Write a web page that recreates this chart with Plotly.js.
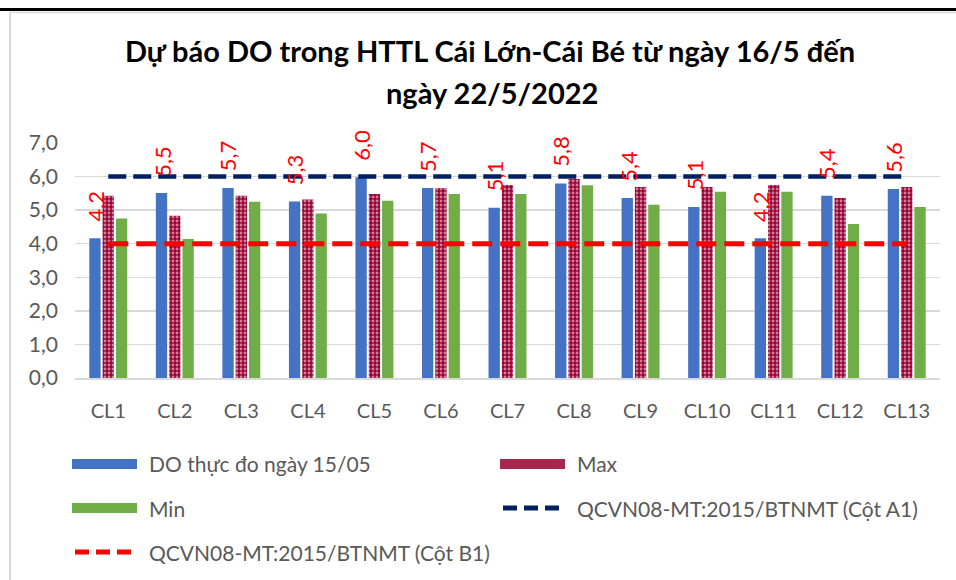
<!DOCTYPE html>
<html>
<head>
<meta charset="utf-8">
<script src="https://cdn.plot.ly/plotly-3.0.1.min.js"></script>
<style>html,body{margin:0;padding:0;background:#fff;}#chart{width:956px;height:580px;}</style>
</head>
<body>
<div id="chart"></div>
<script>
// ---- data ----
const categories = ['CL1','CL2','CL3','CL4','CL5','CL6','CL7','CL8','CL9','CL10','CL11','CL12','CL13'];
const doMeasured = [4.16, 5.51, 5.66, 5.26, 5.98, 5.66, 5.07, 5.79, 5.36, 5.09, 4.16, 5.43, 5.63];
const maxValues  = [5.43, 4.83, 5.43, 5.32, 5.48, 5.66, 5.75, 5.93, 5.69, 5.69, 5.75, 5.36, 5.69];
const minValues  = [4.75, 4.14, 5.25, 4.90, 5.28, 5.48, 5.48, 5.74, 5.16, 5.55, 5.55, 4.59, 5.09];
const a1Values   = [6, 6, 6, 6, 6, 6, 6, 6, 6, 6, 6, 6, 6];
const b1Values   = [4, 4, 4, 4, 4, 4, 4, 4, 4, 4, 4, 4, 4];
const seriesNames = ['DO thực đo ngày 15/05', 'Max', 'Min', 'QCVN08-MT:2015/BTNMT (Cột A1)', 'QCVN08-MT:2015/BTNMT (Cột B1)'];
const titleLines = ['Dự báo DO trong HTTL Cái Lớn-Cái Bé từ ngày 16/5 đến', 'ngày 22/5/2022'];

// ---- geometry helpers (pixel -> paper) ----
const W = 956, H = 580;
const M = {l: 75, r: 16, t: 143, b: 202};
const PW = W - M.l - M.r, PH = H - M.t - M.b;
const px = x => (x - M.l) / PW;
const py = y => (H - M.b - y) / PH;

const FONT = 'Lato, Open Sans, sans-serif';
const GREY = '#595959';
const colors = {do: '#4472C4', max: '#990033', min: '#70AD47', a1: '#002060', b1: '#FF0000'};

const traces = [
  {type: 'bar', name: seriesNames[0], x: categories, y: doMeasured, marker: {color: colors.do}},
  {type: 'bar', name: seriesNames[1], x: categories, y: maxValues,
   marker: {color: colors.max, pattern: {shape: '.', fgcolor: '#ffffff', bgcolor: colors.max, size: 4, solidity: 0.4, fillmode: 'overlay'}}},
  {type: 'bar', name: seriesNames[2], x: categories, y: minValues, marker: {color: colors.min}},
  {type: 'scatter', mode: 'lines', name: seriesNames[3], x: categories, y: a1Values,
   line: {color: colors.a1, width: 4.5, dash: '18px,7px'}},
  {type: 'scatter', mode: 'lines', name: seriesNames[4], x: categories, y: b1Values,
   line: {color: colors.b1, width: 5, dash: '20px,8px'}}
];

const annotations = [];
// data labels on the measured bars
doMeasured.forEach((v, i) => {
  annotations.push({
    x: categories[i], y: v, xref: 'x', yref: 'y',
    text: v.toFixed(1).replace('.', ','),
    textangle: -90, showarrow: false,
    xanchor: 'center', yanchor: 'middle', xshift: -13, yshift: 32,
    font: {family: FONT, size: 22, color: '#FF0000'}
  });
});
// second title line
annotations.push({
  xref: 'paper', yref: 'paper', x: px(492), y: py(93), xanchor: 'center', yanchor: 'middle',
  text: titleLines[1], showarrow: false,
  font: {family: FONT, size: 29, color: '#000000', weight: 700}
});

// custom legend
const shapes = [];
const legendItems = [
  {col: 0, row: 0, kind: 'rect', color: colors.do, name: seriesNames[0]},
  {col: 1, row: 0, kind: 'rect', color: '#a8274f', name: seriesNames[1]},
  {col: 0, row: 1, kind: 'rect', color: colors.min, name: seriesNames[2]},
  {col: 1, row: 1, kind: 'line', color: colors.a1, name: seriesNames[3], dash: '14px,7px', width: 5},
  {col: 0, row: 2, kind: 'line', color: colors.b1, name: seriesNames[4], dash: '14px,7px', width: 5}
];
legendItems.forEach(it => {
  const x0 = 72 + it.col * 428, x1 = x0 + 65;
  const yc = 464 + it.row * 44;
  if (it.kind === 'rect') {
    shapes.push({type: 'rect', xref: 'paper', yref: 'paper', x0: px(x0), x1: px(x1), y0: py(yc - 5), y1: py(yc + 5),
      fillcolor: it.color, line: {width: 0}});
  } else {
    shapes.push({type: 'line', xref: 'paper', yref: 'paper', x0: px(x0 + 3), x1: px(x1), y0: py(yc), y1: py(yc),
      line: {color: it.color, width: it.width, dash: it.dash}});
  }
  annotations.push({xref: 'paper', yref: 'paper', x: px(x1 + 10), y: py(yc), xanchor: 'left', yanchor: 'middle',
    text: it.name, showarrow: false, font: {family: FONT, size: 21, color: GREY}});
});
// page frame elements
shapes.push({type: 'line', xref: 'paper', yref: 'paper', x0: px(0), x1: px(956), y0: py(9.5), y1: py(9.5), line: {color: '#000000', width: 3}});
shapes.push({type: 'line', xref: 'paper', yref: 'paper', x0: px(10), x1: px(956), y0: py(12.5), y1: py(12.5), line: {color: '#d9d9d9', width: 1.5}});
shapes.push({type: 'line', xref: 'paper', yref: 'paper', x0: px(10), x1: px(10), y0: py(12), y1: py(580), line: {color: '#d9d9d9', width: 2}});

const layout = {
  width: W, height: H, margin: M,
  paper_bgcolor: '#ffffff', plot_bgcolor: '#ffffff',
  separators: ',.',
  showlegend: false,
  barmode: 'group', bargap: 0.4, bargroupgap: 0.15,
  title: {text: titleLines[0], x: 490 / W, xref: 'container', xanchor: 'center',
          y: (H - 52) / H, yref: 'container', yanchor: 'middle',
          font: {family: FONT, size: 29, color: '#000000', weight: 700}},
  xaxis: {type: 'category', showgrid: false, showline: true, linecolor: '#d9d9d9', linewidth: 1.5,
          ticks: '', ticklabelstandoff: 14, tickfont: {family: FONT, size: 20, color: GREY}},
  yaxis: {range: [0, 7], dtick: 1, tickformat: '.1f', showgrid: true, gridcolor: '#d9d9d9', gridwidth: 1.5,
          zeroline: false, ticks: '', ticklabelstandoff: 16, tickfont: {family: FONT, size: 21, color: GREY}},
  annotations: annotations,
  shapes: shapes
};

Plotly.newPlot('chart', traces, layout, {displayModeBar: false, staticPlot: true});
</script>
</body>
</html>
